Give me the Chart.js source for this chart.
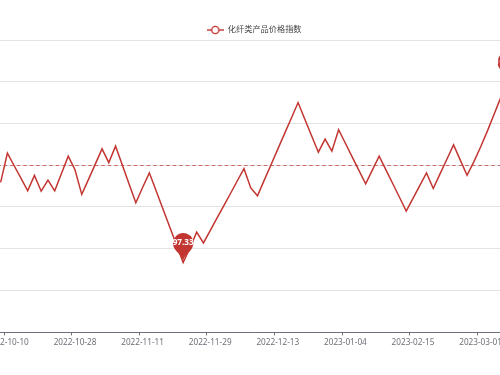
<!DOCTYPE html>
<html lang="zh">
<head>
    <meta charset="UTF-8">
    <title>化纤类产品价格指数</title>
    <script src="https://cdn.jsdelivr.net/npm/chart.js"></script>
    <style>
        html, body {
            margin: 0;
            padding: 0;
            background: #fff;
            overflow: hidden;
        }
        body {
            position: relative;
            width: 500px;
            height: 375px;
        }
        /* the picture is a crop: y axis labels sit off to the left */
        #chart-container {
            position: absolute;
            left: -20px;
            top: 0;
            width: 540px;
            height: 375px;
        }
    </style>
</head>
<body>
    <div id="chart-container">
        <canvas id="priceChart"></canvas>
    </div>

    <script>
        const seriesName = '化纤类产品价格指数';

        const dates = [
            '2022-10-09',
            '2022-10-10', '2022-10-12', '2022-10-13', '2022-10-14', '2022-10-17',
            '2022-10-19', '2022-10-20', '2022-10-21', '2022-10-24', '2022-10-26',
            '2022-10-28', '2022-10-31', '2022-11-01', '2022-11-02', '2022-11-03',
            '2022-11-04', '2022-11-07', '2022-11-08', '2022-11-09', '2022-11-10',
            '2022-11-11', '2022-11-14', '2022-11-15', '2022-11-16', '2022-11-17',
            '2022-11-18', '2022-11-21', '2022-11-22', '2022-11-24', '2022-11-28',
            '2022-11-29', '2022-11-30', '2022-12-01', '2022-12-02', '2022-12-05',
            '2022-12-06', '2022-12-07', '2022-12-08', '2022-12-09', '2022-12-12',
            '2022-12-13', '2022-12-14', '2022-12-15', '2022-12-16', '2022-12-19',
            '2022-12-20', '2022-12-22', '2022-12-26', '2022-12-28', '2022-12-30',
            '2023-01-04', '2023-01-06', '2023-01-10', '2023-01-13', '2023-01-17',
            '2023-01-30', '2023-02-01', '2023-02-03', '2023-02-07', '2023-02-10',
            '2023-02-15', '2023-02-16', '2023-02-17', '2023-02-20', '2023-02-21',
            '2023-02-22', '2023-02-23', '2023-02-24', '2023-02-27', '2023-02-28',
            '2023-03-01', '2023-03-02', '2023-03-03', '2023-03-06', '2023-03-07'
        ];

        const values = [
            101.17,
            102.58, 101.97, 101.38, 100.77, 101.51,
            100.75, 101.28, 100.77, 101.60, 102.43,
            101.78, 100.60, 101.32, 102.05, 102.78,
            102.12, 102.91, 102.01, 101.10, 100.20,
            100.93, 101.63, 100.77, 99.91, 99.05,
            98.19, 97.33, 98.03, 98.79, 98.27,
            98.86, 99.46, 100.05, 100.64, 101.24,
            101.83, 100.91, 100.53, 101.28, 102.02,
            102.77, 103.51, 104.25, 105.00, 104.20,
            103.41, 102.62, 103.25, 102.67, 103.70,
            103.05, 102.40, 101.75, 101.10, 101.77,
            102.43, 101.77, 101.12, 100.46, 99.80,
            100.41, 101.02, 101.63, 100.88, 101.58,
            102.27, 102.97, 102.24, 101.51, 102.16,
            102.87, 103.63, 104.44, 105.25, 106.01
        ];

        // average line value
        const avgValue = 102.0;

        const yMin = 94;
        const yMax = 108;
        const yStep = 2;

        // every 10th date gets a label, starting at 2022-10-10
        const labelEvery = 10;
        const firstLabel = 1;

        const red = '#c23531';
        const fontFamily = '"Noto Sans", "Noto Sans CJK SC", sans-serif';
        const fontSize = 8.2;

        // legend icon: short line with a hollow circle, like echarts
        const icon = document.createElement('canvas');
        icon.width = 17;
        icon.height = 10;
        (function () {
            const c = icon.getContext('2d');
            c.strokeStyle = red;
            c.lineWidth = 1.4;
            c.beginPath();
            c.moveTo(0, 5);
            c.lineTo(17, 5);
            c.stroke();
            c.beginPath();
            c.arc(8.5, 5, 3.6, 0, Math.PI * 2);
            c.fillStyle = '#fff';
            c.fill();
            c.stroke();
        })();

        // echarts 'pin' shape, tip on the data point
        function drawPin(ctx, x, y, size, text) {
            const w = size / 5 * 3;
            const h = Math.max(w, size);
            const r = w / 2;
            const dy = r * r / (h - r);
            const cy = y - h + r + dy;
            const angle = Math.asin(dy / r);
            const dx = Math.cos(angle) * r;
            const tanX = Math.sin(angle);
            const tanY = Math.cos(angle);
            const cpLen = r * 0.6;
            const cpLen2 = r * 0.7;
            ctx.save();
            ctx.beginPath();
            ctx.moveTo(x - dx, cy + dy);
            ctx.arc(x, cy, r, Math.PI - angle, Math.PI * 2 + angle);
            ctx.bezierCurveTo(x + dx - tanX * cpLen, cy + dy + tanY * cpLen, x, y - cpLen2, x, y);
            ctx.bezierCurveTo(x, y - cpLen2, x - dx + tanX * cpLen, cy + dy + tanY * cpLen, x - dx, cy + dy);
            ctx.closePath();
            ctx.fillStyle = red;
            ctx.fill();
            ctx.fillStyle = '#fff';
            ctx.font = 'bold ' + fontSize + 'px ' + fontFamily;
            ctx.textAlign = 'center';
            ctx.textBaseline = 'middle';
            ctx.fillText(text, x, cy);
            ctx.restore();
        }

        const markPlugin = {
            id: 'marks',
            beforeLayout(chart) {
                // trim the legend box so the grid starts where the original does
                const legend = chart.legend;
                if (legend && !legend._trimmed) {
                    const fit = legend.fit;
                    legend.fit = function () {
                        fit.call(this);
                        this.height -= 4.1;
                    };
                    legend._trimmed = true;
                }
            },
            beforeDatasetsDraw(chart) {
                const { ctx, chartArea, scales } = chart;
                const y = Math.round(scales.y.getPixelForValue(avgValue)) + 0.5;
                ctx.save();
                ctx.strokeStyle = 'rgba(194, 53, 49, 0.7)';
                ctx.lineWidth = 1;
                ctx.setLineDash([3.5, 3]);
                ctx.beginPath();
                ctx.moveTo(chartArea.left, y);
                ctx.lineTo(chartArea.right, y);
                ctx.stroke();
                ctx.restore();
            },
            afterDatasetsDraw(chart) {
                const { ctx, scales } = chart;
                const minIdx = values.indexOf(Math.min(...values));
                const maxIdx = values.indexOf(Math.max(...values));
                [minIdx, maxIdx].forEach(i => {
                    drawPin(ctx,
                        scales.x.getPixelForValue(i),
                        scales.y.getPixelForValue(values[i]),
                        34, values[i].toFixed(2));
                });
            }
        };

        new Chart(document.getElementById('priceChart'), {
            type: 'line',
            data: {
                labels: dates,
                datasets: [{
                    label: seriesName,
                    data: values,
                    borderColor: red,
                    backgroundColor: red,
                    borderWidth: 1.5,
                    pointRadius: 0,
                    tension: 0,
                    fill: false
                }]
            },
            options: {
                responsive: true,
                maintainAspectRatio: false,
                animation: false,
                layout: {
                    padding: { left: 17.26, right: 9, top: 15.9, bottom: 24.76 }
                },
                plugins: {
                    tooltip: { enabled: false },
                    legend: {
                        display: true,
                        position: 'top',
                        labels: {
                            usePointStyle: true,
                            pointStyleWidth: 17,
                            padding: 10,
                            color: '#333',
                            font: { family: fontFamily, size: fontSize },
                            generateLabels: () => [{
                                text: seriesName,
                                pointStyle: icon,
                                fillStyle: red,
                                strokeStyle: red,
                                lineWidth: 0,
                                fontColor: '#444',
                                hidden: false,
                                datasetIndex: 0
                            }]
                        }
                    }
                },
                scales: {
                    x: {
                        offset: true,
                        grid: {
                            display: true,
                            offset: true,
                            drawOnChartArea: false,
                            drawTicks: true,
                            tickLength: 3.4,
                            color: ctx => ((ctx.index - firstLabel) % labelEvery === 0) ? '#6e7079' : 'rgba(0,0,0,0)'
                        },
                        border: { display: true, color: '#6e7079', width: 1 },
                        ticks: {
                            autoSkip: false,
                            maxRotation: 0,
                            minRotation: 0,
                            padding: 2.5,
                            color: '#6e7079',
                            font: { family: fontFamily, size: fontSize },
                            callback: function (value, index) {
                                return ((index - firstLabel) % labelEvery === 0) ? this.getLabelForValue(value) : '';
                            }
                        }
                    },
                    y: {
                        min: yMin,
                        max: yMax,
                        border: { display: false },
                        grid: {
                            color: '#e3e3e3',
                            lineWidth: 1,
                            drawTicks: false
                        },
                        ticks: {
                            display: false,
                            stepSize: yStep
                        }
                    }
                }
            },
            plugins: [markPlugin]
        });
    </script>
</body>
</html>
